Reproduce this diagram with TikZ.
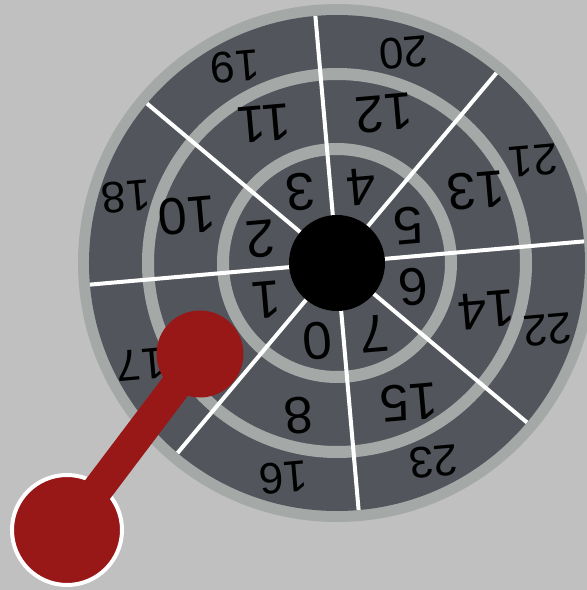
\documentclass[tikz,border=0pt]{standalone}
\usepackage{fontspec}
\setmainfont{Liberation Sans}
\usepackage{xcolor}
\usepackage{tikz}
\usetikzlibrary{calc}

\definecolor{nen}{HTML}{C0C0C0}
\definecolor{vien}{HTML}{A4A9A7}
\definecolor{mat}{HTML}{52565C}
\definecolor{do}{HTML}{981818}

\begin{document}
\begin{tikzpicture}[x=1pt, y=1pt,
    so/.style={inner sep=0pt, rotate=185, font=\fontsize{#1}{#1}\selectfont}]
    % 1. Nền và khung
    \fill[nen] (-337,-327) rectangle (250,263);
    \useasboundingbox (-337,-327) rectangle (250,263);
    
    % 2. Mặt đĩa
    \fill[vien] (0,0) circle (259);
    \fill[mat] (0,0) circle (248);
    \draw[vien, line width=12] (0,0) circle (189);
    \draw[vien, line width=12] (0,0) circle (114);
    
    % 3. Vạch chia
    \foreach \a in {5,50,...,320} {
        \draw[white, line width=4] (\a:40) -- (\a:248);
    }
    \node[circle, fill=black, minimum size=96, inner sep=0pt] (tam) at (0,0) {};
    
    % 4. Các số
    \foreach \i/\g in {0/256,1/207.5,2/162.5,3/117.5,4/72.5,5/27.5,6/-17.5,7/-62.5} {
        \node[so=53] (n\i) at (\g:80) {\i};
    }
    \foreach \i/\g in {0/256,2/162.5,3/117.5,4/72.5,5/27.5,6/-17.5,7/-62.5} {
        \pgfmathtruncatemacro{\k}{\i+8}
        \node[so=52] (n\k) at (\g:157) {\k};
    }
    \foreach \i/\g in {0/256,1/207.5,2/162.5,3/117.5,4/72.5,5/27.5,6/-17.5,7/-64} {
        \pgfmathtruncatemacro{\k}{\i+16}
        \node[so=44] (n\k) at (\g:221) {\k};
    }
    
    % 5. Cần gạt
    \node[circle, fill=do, draw=white, line width=4, minimum size=110, inner sep=0pt] (tay) at (-270,-267) {};
    \node[circle, fill=do, minimum size=87, inner sep=0pt] (num) at (-137,-91) {};
    \draw[do, line width=31] (num.center) -- (tay.center);
\end{tikzpicture}
\end{document}
